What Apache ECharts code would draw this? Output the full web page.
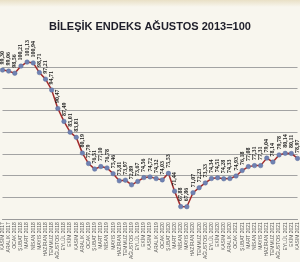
<!DOCTYPE html>
<html><head><meta charset="utf-8">
<script src="https://cdn.jsdelivr.net/npm/echarts@6/dist/echarts.min.js"></script>
<style>html,body{margin:0;padding:0;background:#f8f6ee}#c{width:300px;height:262px}</style>
</head><body><div id="c"></div>
<script>
const titleText = 'BİLEŞİK ENDEKS AĞUSTOS 2013=100';
const categories = [
  'KASIM 2017','ARALIK 2017','OCAK 2018','ŞUBAT 2018','MART 2018','NİSAN 2018','MAYIS 2018','HAZİRAN 2018',
  'TEMMUZ 2018','AĞUSTOS 2018','EYLÜL 2018','EKİM 2018','KASIM 2018','ARALIK 2018','OCAK 2019','ŞUBAT 2019',
  'MART 2019','NİSAN 2019','MAYIS 2019','HAZİRAN 2019','TEMMUZ 2019','AĞUSTOS 2019','EYLÜL 2019','EKİM 2019',
  'KASIM 2019','ARALIK 2019','OCAK 2020','ŞUBAT 2020','MART 2020','NİSAN 2020','MAYIS 2020','HAZİRAN 2020',
  'TEMMUZ 2020','AĞUSTOS 2020','EYLÜL 2020','EKİM 2020','KASIM 2020','ARALIK 2020','OCAK 2021','ŞUBAT 2021',
  'MART 2021','NİSAN 2021','MAYIS 2021','HAZİRAN 2021','TEMMUZ 2021','AĞUSTOS 2021','EYLÜL 2021','EKİM 2021',
  'KASIM 2021'
];
const values = [
  99.30, 99.06, 98.56, 100.21, 101.13, 100.94, 98.71, 97.21, 94.71, 90.47,
  87.49, 85.01, 83.81, 80.19, 77.79, 76.51, 77.10, 76.78, 75.46, 73.81,
  73.97, 72.89, 73.67, 74.56, 74.72, 74.32, 74.03, 75.53, 71.44, 67.88,
  67.86, 71.07, 72.23, 73.33, 74.34, 74.51, 74.28, 74.33, 74.93, 76.18,
  77.08, 77.31, 77.31, 79.04, 78.14, 79.78, 80.14, 80.11, 78.97
];
const yTicks = [65, 70, 75, 80, 85, 90, 95, 100];

const chart = echarts.init(document.getElementById('c'), null, {renderer: 'canvas'});
chart.setOption({
  backgroundColor: '#f8f6ee',
  animation: false,
  graphic: [{
    type: 'rect', shape: {x: 0, y: 0, width: 300, height: 7},
    style: {fill: new echarts.graphic.LinearGradient(0, 0, 0, 1, [
      {offset: 0, color: '#e9e0c6'}, {offset: 1, color: '#f8f6ee'}])}
  }],
  title: {
    text: titleText, left: 'center', top: 16,
    textStyle: {fontSize: 11, fontWeight: 'bold', color: '#1e1e2a', fontFamily: 'Liberation Sans'}
  },
  grid: {left: 2, right: 2, top: 67, bottom: 19, containLabel: false},
  xAxis: {
    type: 'category', data: categories, boundaryGap: false,
    axisLine: {lineStyle: {color: '#9a9a9a', width: 1}},
    axisTick: {show: false},
    axisLabel: {interval: 0, rotate: 90, fontSize: 5, color: '#555', margin: 3, fontFamily: 'Liberation Sans'}
  },
  yAxis: {
    type: 'value', min: yTicks[0], max: yTicks[yTicks.length - 1], interval: 5,
    axisLabel: {show: false}, axisLine: {show: false}, axisTick: {show: false},
    splitLine: {lineStyle: {color: '#a3a3a3', width: 1}}
  },
  series: [{
    type: 'line', data: values, clip: false,
    symbol: 'circle', symbolSize: 4.5,
    lineStyle: {color: '#a32c2c', width: 1.5},
    itemStyle: {color: '#6f82b3', borderColor: '#5b6c9a', borderWidth: 0.5},
    label: {
      show: true, position: 'top', rotate: 90, align: 'left', verticalAlign: 'middle', distance: 3,
      fontSize: 6, color: '#1a1a1a', fontFamily: 'Liberation Serif', fontWeight: 'bold',
      formatter: p => p.value.toFixed(2).replace('.', ',')
    }
  }]
});
</script>
</body></html>
